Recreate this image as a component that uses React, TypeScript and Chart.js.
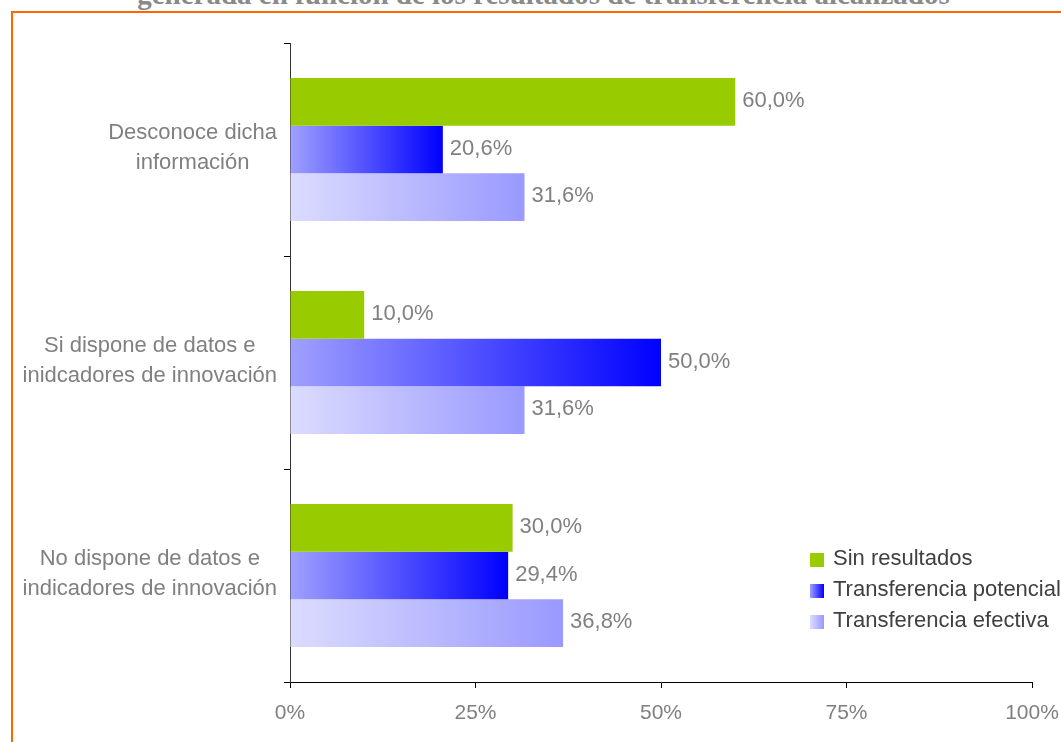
import React, { useEffect, useRef } from "react";
import { Chart, registerables } from "chart.js";

Chart.register(...registerables);

const titleText = "generada en función de los resultados de transferencia alcanzados";
const categories: string[][] = [
  ["Desconoce dicha", "información"],
  ["Si dispone de datos e", "inidcadores de innovación"],
  ["No dispone de datos e", "indicadores de innovación"],
];
const seriesNames = ["Sin resultados", "Transferencia potencial", "Transferencia efectiva"];
const sinResultados = [60.0, 10.0, 30.0];
const potencial = [20.6, 50.0, 29.4];
const efectiva = [31.6, 31.6, 36.8];
const xTickValues = [0, 25, 50, 75, 100];

const GREEN = "#99cc00";
const POT_FROM = "#a0a0ff";
const POT_TO = "#0000ff";
const EFE_FROM = "#dcdcff";
const EFE_TO = "#9999ff";
const GRAY = "#808080";
const FONT = "'Liberation Sans', Arial, sans-serif";

function gradientFill(from: string, to: string) {
  return (ctx: any) => {
    const chart = ctx.chart;
    const xs = chart.scales && chart.scales.x;
    if (!xs || ctx.type !== "data") return from;
    const x0 = xs.getPixelForValue(0);
    const x1 = xs.getPixelForValue(ctx.raw);
    if (!isFinite(x0) || !isFinite(x1) || x1 - x0 < 1) return from;
    const g = chart.ctx.createLinearGradient(x0, 0, x1, 0);
    g.addColorStop(0, from);
    g.addColorStop(1, to);
    return g;
  };
}

const categoryLabelPlugin = {
  id: "categoryLabels",
  afterDraw(chart: any) {
    const ctx = chart.ctx;
    const ys = chart.scales.y;
    const axisX = chart.chartArea.left;
    ctx.save();
    ctx.font = `22px ${FONT}`;
    ctx.fillStyle = GRAY;
    ctx.textAlign = "center";
    ctx.textBaseline = "alphabetic";
    (chart.data.labels as string[][]).forEach((lines, i) => {
      const c = ys.getPixelForValue(i);
      const widest = Math.max(...lines.map((l) => ctx.measureText(l).width));
      const cx = axisX - 13 - widest / 2;
      const n = lines.length;
      lines.forEach((line, k) => {
        const y = c + (k - (n - 1) / 2) * 30 + 4.6;
        ctx.fillText(line, cx, y);
      });
    });
    ctx.restore();
  },
};

const valueLabelPlugin = {
  id: "valueLabels",
  afterDatasetsDraw(chart: any) {
    const ctx = chart.ctx;
    ctx.save();
    ctx.font = `22px ${FONT}`;
    ctx.fillStyle = GRAY;
    ctx.textAlign = "left";
    ctx.textBaseline = "alphabetic";
    chart.data.datasets.forEach((ds: any, di: number) => {
      const meta = chart.getDatasetMeta(di);
      meta.data.forEach((el: any, i: number) => {
        const v = ds.data[i] as number;
        const txt = v.toFixed(1).replace(".", ",") + "%";
        ctx.fillText(txt, el.x + 7, el.y + 5);
      });
    });
    ctx.restore();
  },
};

function ChartCanvas() {
  const ref = useRef<HTMLCanvasElement | null>(null);
  useEffect(() => {
    if (!ref.current) return;
    const chart = new Chart(ref.current, {
      type: "bar",
      data: {
        labels: categories as any,
        datasets: [
          {
            label: seriesNames[0],
            data: sinResultados,
            backgroundColor: GREEN,
            borderWidth: 0,
          },
          {
            label: seriesNames[1],
            data: potencial,
            backgroundColor: gradientFill(POT_FROM, POT_TO) as any,
            borderWidth: 0,
          },
          {
            label: seriesNames[2],
            data: efectiva,
            backgroundColor: gradientFill(EFE_FROM, EFE_TO) as any,
            borderWidth: 0,
          },
        ],
      },
      options: {
        indexAxis: "y",
        responsive: false,
        animation: false,
        devicePixelRatio: 1,
        events: [],
        layout: { padding: { top: 43, right: 29, left: 0, bottom: 0 } },
        datasets: {
          bar: { barPercentage: 1.0, categoryPercentage: 0.672 },
        },
        plugins: {
          legend: { display: false },
          tooltip: { enabled: false },
          title: { display: false },
        },
        scales: {
          x: {
            type: "linear",
            min: 0,
            max: 100,
            afterBuildTicks: (s: any) => {
              s.ticks = xTickValues.map((v) => ({ value: v }));
            },
            afterFit: (s: any) => {
              s.height = 60;
              s.paddingLeft = 0;
              s.paddingRight = 0;
            },
            ticks: {
              color: GRAY,
              font: { family: FONT, size: 21 },
              padding: 13,
              callback: (v: any) => v + "%",
            },
            grid: {
              drawOnChartArea: false,
              drawTicks: true,
              tickLength: 6,
              color: "#000",
            },
            border: { display: true, color: "#000", width: 1 },
          },
          y: {
            type: "category",
            afterFit: (s: any) => {
              s.width = 290;
              s.paddingTop = 0;
              s.paddingBottom = 0;
            },
            ticks: { display: false },
            grid: {
              offset: true,
              drawOnChartArea: false,
              drawTicks: true,
              tickLength: 6,
              color: "#000",
            },
            border: { display: true, color: "#333", width: 1 },
          },
        },
      },
      plugins: [categoryLabelPlugin, valueLabelPlugin],
    });
    return () => chart.destroy();
  }, []);
  return (
    <canvas
      ref={ref}
      width={1061}
      height={742}
      style={{ position: "absolute", left: 0, top: 0, display: "block" }}
    />
  );
}

const legendFills = [
  GREEN,
  `linear-gradient(to right, ${POT_FROM}, ${POT_TO})`,
  `linear-gradient(to right, ${EFE_FROM}, ${EFE_TO})`,
];
const legendTops = [542, 573, 604];

export default function App() {
  return (
    <div
      style={{
        position: "fixed",
        left: 0,
        top: 0,
        width: 1061,
        height: 742,
        overflow: "hidden",
        background: "#fff",
      }}
    >
      <div
        style={{
          position: "absolute",
          left: 0,
          top: -20,
          width: 1087,
          textAlign: "center",
          font: "bold 29px 'Liberation Serif', 'Times New Roman', serif",
          lineHeight: "29px",
          color: "#8a8a8a",
          whiteSpace: "nowrap",
        }}
      >
        {titleText}
      </div>
      <div
        style={{
          position: "absolute",
          left: 11,
          top: 11,
          width: 1200,
          height: 900,
          borderLeft: "2px solid #ff6600",
          borderTop: "2px solid #ff6600",
          background: "#fff",
        }}
      />
      <ChartCanvas />
      {seriesNames.map((name, i) => (
        <div
          key={name}
          style={{
            position: "absolute",
            left: 810,
            top: legendTops[i],
            height: 31,
            display: "flex",
            alignItems: "flex-start",
            whiteSpace: "nowrap",
          }}
        >
          <div
            style={{
              width: 14,
              height: 14,
              marginTop: 11,
              background: legendFills[i],
              marginRight: 9,
            }}
          />
          <span
            style={{
              font: `22px ${FONT}`,
              lineHeight: "31px",
              color: "#404040",
            }}
          >
            {name}
          </span>
        </div>
      ))}
    </div>
  );
}
